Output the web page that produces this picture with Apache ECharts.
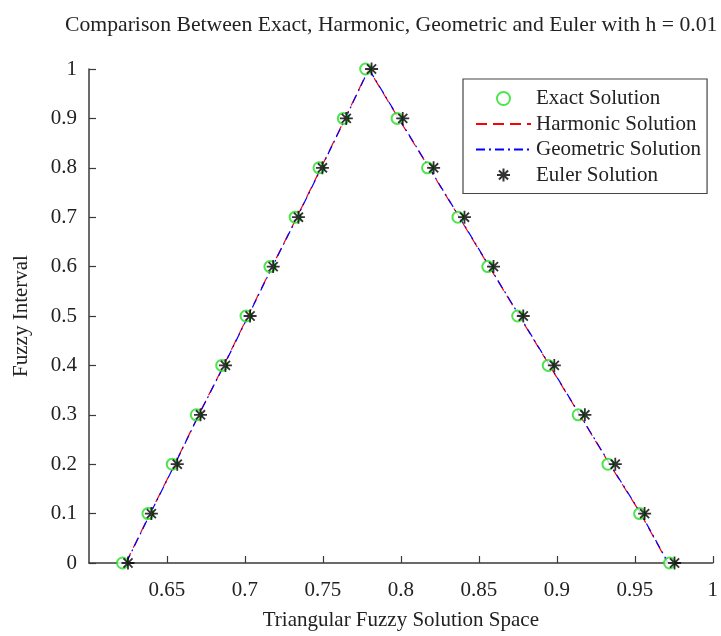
<!DOCTYPE html>
<html>
<head>
<meta charset="utf-8">
<script src="https://cdn.jsdelivr.net/npm/echarts@6/dist/echarts.min.js"></script>
<style>
  html, body { margin: 0; padding: 0; background: #fff; }
  #chart { width: 721px; height: 636px; }
</style>
</head>
<body>
<div id="chart"></div>
<script>
// fuzzy levels (alpha cuts), going up the left branch and down the right one
const alphaLevels = [0, 0.1, 0.2, 0.3, 0.4, 0.5, 0.6, 0.7, 0.8, 0.9, 1,
                     0.9, 0.8, 0.7, 0.6, 0.5, 0.4, 0.3, 0.2, 0.1, 0]

const exactX = [0.6215, 0.6378, 0.6534, 0.6688, 0.6851, 0.7007, 0.7160, 0.7322, 0.7475, 0.7631, 0.7774,
                0.7976, 0.8171, 0.8366, 0.8557, 0.8749, 0.8945, 0.9137, 0.9328, 0.9531, 0.9723]
const harmonicX = [0.6236, 0.6391, 0.6550, 0.6703, 0.6864, 0.7019, 0.7174, 0.7333, 0.7488, 0.7642, 0.7793,
                   0.7985, 0.8180, 0.8374, 0.8566, 0.8759, 0.8953, 0.9146, 0.9339, 0.9538, 0.9712]
const geometricX = [0.6238, 0.6393, 0.6551, 0.6705, 0.6866, 0.7021, 0.7176, 0.7335, 0.7490, 0.7644, 0.7795,
                    0.7987, 0.8182, 0.8376, 0.8568, 0.8761, 0.8955, 0.9148, 0.9341, 0.9540, 0.9714]
const eulerX = [0.6250, 0.6400, 0.6566, 0.6715, 0.6875, 0.7033, 0.7181, 0.7343, 0.7497, 0.7650, 0.7812,
                0.8012, 0.8210, 0.8408, 0.8594, 0.8785, 0.8984, 0.9180, 0.9375, 0.9563, 0.9755]

const seriesNames = ['Exact Solution', 'Harmonic Solution', 'Geometric Solution', 'Euler Solution']

function pairs(xs) {
  return xs.map((x, i) => [x, alphaLevels[i]])
}

const serif = "'Liberation Serif', 'Times New Roman', serif"
const axisColor = '#3a3a3a'
const asterisk = 'path://M0,-10L0,10M-10,0L10,0M-7,-7L7,7M-7,7L7,-7'

const myChart = echarts.init(document.getElementById('chart'))

const options = {
  backgroundColor: '#fff',
  animation: false,
  title: {
    text: 'Comparison Between Exact, Harmonic, Geometric and Euler with h = 0.01',
    left: 60,
    top: 9,
    textStyle: { fontFamily: serif, fontSize: 21.7, fontWeight: 'normal', color: '#222' }
  },
  legend: {
    orient: 'vertical',
    left: 463,
    top: 79,
    padding: [9, 6, 8, 12],
    itemWidth: 55,
    itemHeight: 13,
    itemGap: 4.5,
    borderColor: '#444',
    borderWidth: 1.2,
    backgroundColor: '#fff',
    textStyle: { fontFamily: serif, fontSize: 21, color: '#222', lineHeight: 20 },
    data: [
      { name: seriesNames[0] },
      { name: seriesNames[1], itemStyle: { opacity: 0 } },
      { name: seriesNames[2], itemStyle: { opacity: 0 } },
      { name: seriesNames[3] }
    ]
  },
  grid: { left: 89, right: 6, top: 69, bottom: 73 },
  xAxis: {
    type: 'value',
    min: 0.6,
    max: 1,
    interval: 0.05,
    name: 'Triangular Fuzzy Solution Space',
    nameLocation: 'middle',
    nameGap: 47,
    nameTextStyle: { fontFamily: serif, fontSize: 21, color: '#222' },
    axisLine: { onZero: false, lineStyle: { color: axisColor, width: 1.5 } },
    axisTick: { inside: true, length: 7, lineStyle: { color: axisColor, width: 1.2 } },
    axisLabel: { showMinLabel: false, margin: 17, fontFamily: serif, fontSize: 21, color: '#222' },
    splitLine: { show: false }
  },
  yAxis: {
    type: 'value',
    min: 0,
    max: 1,
    interval: 0.1,
    name: 'Fuzzy Interval',
    nameLocation: 'middle',
    nameRotate: 90,
    nameGap: 57,
    nameTextStyle: { fontFamily: serif, fontSize: 21, color: '#222' },
    axisLine: { show: true, onZero: false, lineStyle: { color: axisColor, width: 1.5 } },
    axisTick: { show: true, inside: true, length: 7, lineStyle: { color: axisColor, width: 1.2 } },
    axisLabel: { margin: 12, fontFamily: serif, fontSize: 21, color: '#222' },
    splitLine: { show: false }
  },
  series: [
    {
      name: seriesNames[1],
      type: 'line',
      data: pairs(harmonicX),
      symbol: 'none',
      itemStyle: { color: '#ff0000' },
      lineStyle: { color: '#ff0000', width: 1.2, type: [11, 6] },
      z: 2
    },
    {
      name: seriesNames[2],
      type: 'line',
      data: pairs(geometricX),
      symbol: 'none',
      itemStyle: { color: '#0000ff' },
      lineStyle: { color: '#0000ff', width: 1.2, type: [9, 4, 2, 4] },
      z: 3
    },
    {
      name: seriesNames[0],
      type: 'scatter',
      data: pairs(exactX),
      symbol: 'emptyCircle',
      symbolSize: 11,
      itemStyle: { color: '#22dd22', borderColor: '#22dd22', borderWidth: 1.3 },
      z: 4
    },
    {
      name: seriesNames[3],
      type: 'scatter',
      data: pairs(eulerX),
      symbol: asterisk,
      symbolSize: 13,
      itemStyle: { color: 'none', borderColor: '#000', borderWidth: 1.8 },
      z: 5
    }
  ]
}

myChart.setOption(options)

window.addEventListener('resize', function () {
  myChart.resize()
})
</script>
</body>
</html>
